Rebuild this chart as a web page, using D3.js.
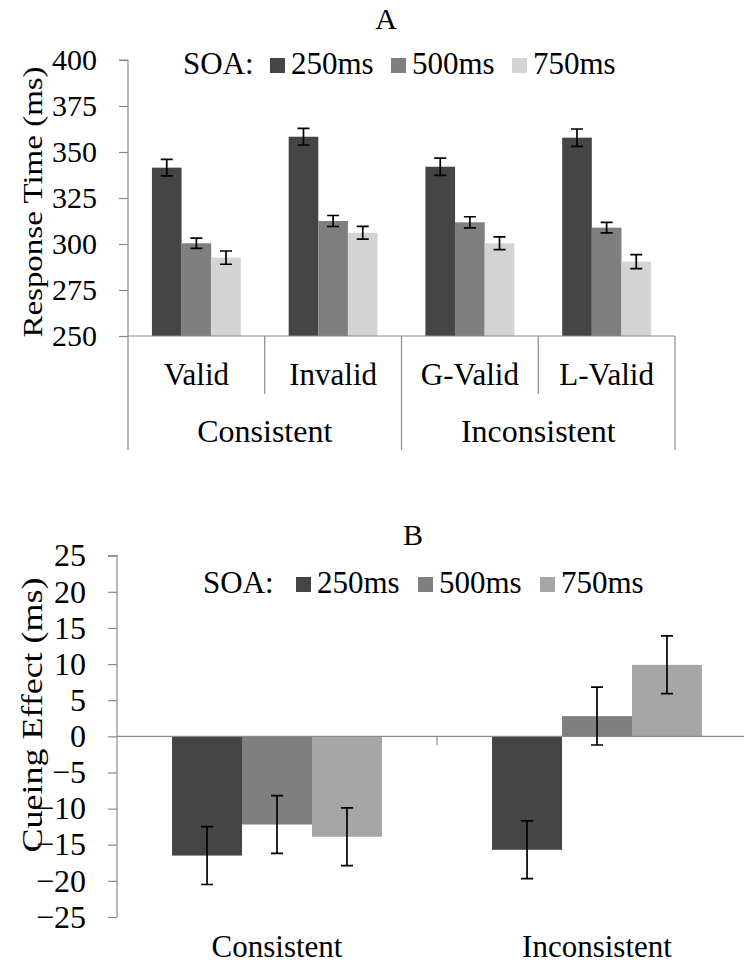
<!DOCTYPE html>
<html><head><meta charset="utf-8">
<script src="https://cdn.jsdelivr.net/npm/d3@7/dist/d3.min.js"></script>
<style>
html,body{margin:0;padding:0;background:#fff;}
svg{display:block;}
</style></head>
<body>
<svg id="chart" width="744" height="963"></svg>
<script>
// ---- Panel A data ----
const seriesLabels = ["250ms", "500ms", "750ms"];
const conditionsA = ["Valid", "Invalid", "G-Valid", "L-Valid"];
const groupsA = ["Consistent", "Inconsistent"];
const rt250 = [341.5, 358.3, 342.0, 357.8];
const rt500 = [300.4, 312.5, 311.8, 308.9];
const rt750 = [292.6, 306.1, 300.4, 290.4];
const err250 = [4.5, 4.5, 4.7, 4.7];
const err500 = [2.8, 3.0, 3.0, 2.9];
const err750 = [3.6, 3.5, 3.5, 3.8];
const ticksA = [250, 275, 300, 325, 350, 375, 400];

// ---- Panel B data ----
const categoriesB = ["Consistent", "Inconsistent"];
const ce250 = [-16.5, -15.7];
const ce500 = [-12.2, 2.8];
const ce750 = [-13.9, 9.9];
const ceErr250 = [4.0, 4.0];
const ceErr500 = [4.0, 4.0];
const ceErr750 = [4.0, 4.0];
const ticksB = [-25, -20, -15, -10, -5, 0, 5, 10, 15, 20, 25];

const colorsA = ["#454545", "#7f7f7f", "#d4d4d4"];
const colorsB = ["#454545", "#7f7f7f", "#a6a6a6"];
const axisColor = "#8a8a8a";
const FONT = "'Liberation Serif', 'Times New Roman', Times, 'DejaVu Serif', serif";

const svg = d3.select("#chart");

function drawYAxis(g, y, ticks, x0, fontSize, pad) {
  const ax = g.append("g").attr("transform", `translate(${x0},0)`)
    .call(d3.axisLeft(y).tickValues(ticks).tickSize(9).tickPadding(pad).tickFormat(d3.format("d")));
  ax.select(".domain").attr("stroke", axisColor).attr("stroke-width", 1.2)
    .attr("d", `M-9,${y(ticks[ticks.length-1])}H0V${y(ticks[0])}`);
  ax.selectAll(".tick line").attr("stroke", axisColor).attr("stroke-width", 1.2);
  ax.selectAll(".tick text").attr("font-size", fontSize).attr("fill", "#000");
  return ax;
}

function legend(g, x0, yBase, colors, positions, fs) {
  g.append("text").attr("x", x0).attr("y", yBase).attr("font-size", fs).text("SOA:");
  seriesLabels.forEach((s, i) => {
    g.append("rect").attr("x", positions[i]).attr("y", yBase - 16).attr("width", 15).attr("height", 15).attr("fill", colors[i]);
    g.append("text").attr("x", positions[i] + 21).attr("y", yBase).attr("font-size", fs).text(s);
  });
}

function errPath(cx, yTop, yBot) {
  return `M${cx},${yTop}V${yBot}M${cx - 6},${yTop}H${cx + 6}M${cx - 6},${yBot}H${cx + 6}`;
}

// ================= Panel A =================
{
  const g = svg.append("g");
  const left = 128, right = 675, top = 60, bottom = 336;
  const y = d3.scaleLinear().domain([250, 400]).range([bottom, top]);
  const x0 = d3.scaleBand().domain(conditionsA).range([left, right]).padding(0);
  const bw = x0.bandwidth();
  const off = bw * 0.175;
  const x1 = d3.scaleBand().domain(seriesLabels).range([off, bw - off]).padding(0);
  const vals = [rt250, rt500, rt750];
  const errs = [err250, err500, err750];

  conditionsA.forEach((c, ci) => {
    seriesLabels.forEach((s, si) => {
      g.append("rect")
        .attr("x", x0(c) + x1(s)).attr("width", x1.bandwidth())
        .attr("y", y(vals[si][ci])).attr("height", y(250) - y(vals[si][ci]))
        .attr("fill", colorsA[si]);
    });
  });
  conditionsA.forEach((c, ci) => {
    seriesLabels.forEach((s, si) => {
      const cx = x0(c) + x1(s) + x1.bandwidth() / 2;
      const v = vals[si][ci], e = errs[si][ci];
      g.append("path").attr("d", errPath(cx, y(v + e), y(v - e))).attr("stroke", "#000").attr("stroke-width", 1.7).attr("fill", "none");
    });
  });

  drawYAxis(g, y, ticksA, left, 30, 22);
  g.append("line").attr("x1", left).attr("x2", right).attr("y1", y(250)).attr("y2", y(250)).attr("stroke", axisColor).attr("stroke-width", 1.2);
  const lowY = 450, midY = 394;
  [left, x0(conditionsA[2]), right].forEach(xx => g.append("line").attr("x1", xx).attr("x2", xx).attr("y1", y(250)).attr("y2", lowY).attr("stroke", axisColor).attr("stroke-width", 1.2));
  [x0(conditionsA[1]), x0(conditionsA[3])].forEach(xx => g.append("line").attr("x1", xx).attr("x2", xx).attr("y1", y(250)).attr("y2", midY).attr("stroke", axisColor).attr("stroke-width", 1.2));
  conditionsA.forEach(c => g.append("text").attr("x", x0(c) + bw / 2).attr("y", 385).attr("text-anchor", "middle").attr("font-size", 31).text(c));
  groupsA.forEach((gr, gi) => {
    const cx = (x0(conditionsA[gi * 2]) + x0(conditionsA[gi * 2 + 1]) + bw) / 2;
    g.append("text").attr("x", cx).attr("y", 442).attr("text-anchor", "middle").attr("font-size", 32).text(gr);
  });
  g.append("text").attr("transform", `translate(42,${(top + bottom) / 2 + 4}) rotate(-90) scale(1,0.82)`).attr("text-anchor", "middle").attr("font-size", 33).text("Response Time (ms)");
  g.append("text").attr("x", 386).attr("y", 29).attr("text-anchor", "middle").attr("font-size", 30).text("A");
  legend(g, 183, 74, colorsA, [270, 391, 512], 31);
}

// ================= Panel B =================
{
  const g = svg.append("g");
  const left = 117, right = 757, top = 555.7, bottom = 917;
  const y = d3.scaleLinear().domain([-25, 25]).range([bottom, top]);
  const x0 = d3.scaleBand().domain(categoriesB).range([left, right]).padding(0);
  const bw = x0.bandwidth();
  const off = bw * 0.172;
  const x1 = d3.scaleBand().domain(seriesLabels).range([off, bw - off]).padding(0);
  const vals = [ce250, ce500, ce750];
  const errs = [ceErr250, ceErr500, ceErr750];

  categoriesB.forEach((c, ci) => {
    seriesLabels.forEach((s, si) => {
      const v = vals[si][ci];
      g.append("rect")
        .attr("x", x0(c) + x1(s)).attr("width", x1.bandwidth())
        .attr("y", y(Math.max(0, v))).attr("height", Math.abs(y(v) - y(0)))
        .attr("fill", colorsB[si]);
    });
  });
  drawYAxis(g, y, ticksB, left, 32, 22);
  g.append("line").attr("x1", left).attr("x2", right).attr("y1", y(0)).attr("y2", y(0)).attr("stroke", axisColor).attr("stroke-width", 1.2);
  g.append("line").attr("x1", x0(categoriesB[1])).attr("x2", x0(categoriesB[1])).attr("y1", y(0)).attr("y2", y(0) + 9).attr("stroke", axisColor).attr("stroke-width", 1.2);

  categoriesB.forEach((c, ci) => {
    seriesLabels.forEach((s, si) => {
      const cx = x0(c) + x1(s) + x1.bandwidth() / 2;
      const v = vals[si][ci], e = errs[si][ci];
      g.append("path").attr("d", errPath(cx, y(v + e), y(v - e))).attr("stroke", "#000").attr("stroke-width", 1.7).attr("fill", "none");
    });
  });

  categoriesB.forEach(c => g.append("text").attr("x", x0(c) + bw / 2).attr("y", 957).attr("text-anchor", "middle").attr("font-size", 31).text(c));
  g.append("text").attr("transform", `translate(42,715) rotate(-90) scale(1,0.82)`).attr("text-anchor", "middle").attr("font-size", 36).text("Cueing Effect (ms)");
  g.append("text").attr("x", 413).attr("y", 545).attr("text-anchor", "middle").attr("font-size", 30).text("B");
  legend(g, 203, 593, colorsB, [296, 418, 540], 31);
}

// force serif font on all text
svg.selectAll("g").attr("font-family", null);
svg.selectAll("text").attr("font-family", FONT).style("font-family", FONT).attr("fill", "#000");
</script>
</body></html>
